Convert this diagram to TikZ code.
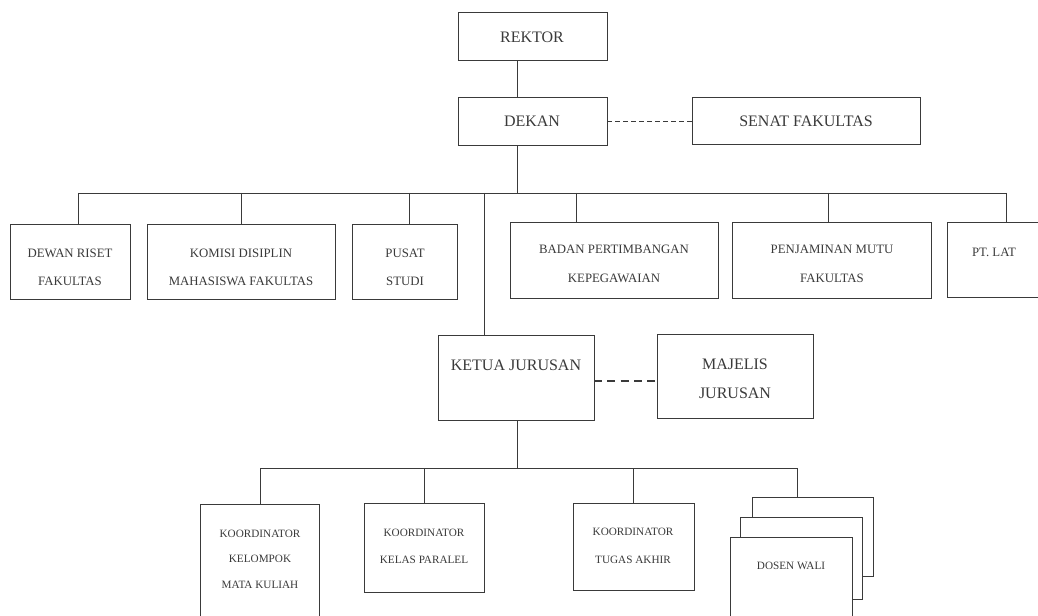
\documentclass[tikz,border=0pt]{standalone}
\usepackage{fontspec}
\setmainfont{Liberation Serif}
\usetikzlibrary{fit}
\definecolor{ink}{HTML}{3A3A3A}
\tikzset{
  box/.style={draw=ink, line width=0.7pt, fill=white, inner sep=0pt},
  wire/.style={draw=ink, line width=0.7pt},
  thindash/.style={draw=ink, line width=0.6pt, dash pattern=on 3.5pt off 2.5pt},
  thickdash/.style={draw=ink, line width=1.1pt, dash pattern=on 6pt off 4pt},
  ttop/.style={text=ink, font=\fontsize{12}{14}\selectfont, inner sep=0pt},
  tmid/.style={text=ink, font=\fontsize{9.6}{11}\selectfont, inner sep=0pt},
  tlow/.style={text=ink, font=\fontsize{8.4}{10}\selectfont, inner sep=0pt},
}
\newcommand{\bx}[5]{\node[box, fit={(#2,#3)(#4,#5)}] (#1) {};}
\begin{document}
\begin{tikzpicture}[x=0.75pt,y=-0.75pt]
\clip (0,0) rectangle (1038,616);
\fill[white] (0,0) rectangle (1038,616);

% top level
\bx{rektor}{458}{12}{607}{60}
\bx{dekan}{458}{97}{607}{145}
\bx{senat}{692}{97}{920}{144}
\node[ttop] (trektor) at (532,37) {REKTOR};
\node[ttop] (tdekan) at (532,121) {DEKAN};
\node[ttop] (tsenat) at (806,121) {SENAT FAKULTAS};

% second row
\bx{dewan}{10}{224}{130}{299}
\bx{komisi}{147}{224}{335}{299}
\bx{pusat}{352}{224}{457}{299}
\bx{badan}{510}{222}{718}{298}
\bx{penj}{732}{222}{931}{298}
\bx{ptlat}{947}{222}{1060}{297}
\node[tmid] (t1a) at (70,253) {DEWAN RISET};
\node[tmid] (t1b) at (70,281) {FAKULTAS};
\node[tmid] (t2a) at (241,253) {KOMISI DISIPLIN};
\node[tmid] (t2b) at (241,281) {MAHASISWA FAKULTAS};
\node[tmid] (t3a) at (405,253) {PUSAT};
\node[tmid] (t3b) at (405,281) {STUDI};
\node[tmid] (t4a) at (614,249) {BADAN PERTIMBANGAN};
\node[tmid] (t4b) at (614,278) {KEPEGAWAIAN};
\node[tmid] (t5a) at (832,249) {PENJAMINAN MUTU};
\node[tmid] (t5b) at (832,278) {FAKULTAS};
\node[tmid] (t6a) at (994,252) {PT. LAT};

% jurusan
\bx{ketua}{438}{335}{594}{420}
\bx{majelis}{657}{334}{813}{418}
\node[ttop] (tketua) at (516,365) {KETUA JURUSAN};
\node[ttop] (tmaj1) at (735,364) {MAJELIS};
\node[ttop] (tmaj2) at (735,393) {JURUSAN};

% bottom row
\bx{kelompok}{200}{504}{319}{650}
\bx{paralel}{364}{503}{484}{592}
\bx{tugas}{573}{503}{694}{590}
\bx{wali3}{752}{497}{873}{576}
\bx{wali2}{740}{517}{862}{599}
\bx{wali}{730}{537}{852}{650}
\node[tlow] (k1) at (260,534) {KOORDINATOR};
\node[tlow] (k2) at (260,559) {KELOMPOK};
\node[tlow] (k3) at (260,585) {MATA KULIAH};
\node[tlow] (p1) at (424,533) {KOORDINATOR};
\node[tlow] (p2) at (424,560) {KELAS PARALEL};
\node[tlow] (g1) at (633,532) {KOORDINATOR};
\node[tlow] (g2) at (633,560) {TUGAS AKHIR};
\node[tlow] (w1) at (791,566) {DOSEN WALI};

% connectors
\coordinate (d) at (517,193);
\coordinate (bl) at (78,193);
\coordinate (br) at (1006,193);
\draw[wire] (rektor.south -| d) -- (dekan.north -| d);
\draw[wire] (dekan.south -| d) -- (d);
\draw[wire] (bl) -- (br);
\draw[wire] (bl) -- (dewan.north -| bl);
\coordinate (c2) at (241,193);
\draw[wire] (c2) -- (komisi.north -| c2);
\coordinate (c3) at (409,193);
\draw[wire] (c3) -- (pusat.north -| c3);
\coordinate (c4) at (484,193);
\draw[wire] (c4) -- (ketua.north -| c4);
\coordinate (c5) at (576,193);
\draw[wire] (c5) -- (badan.north -| c5);
\coordinate (c6) at (828,193);
\draw[wire] (c6) -- (penj.north -| c6);
\draw[wire] (br) -- (ptlat.north -| br);
\draw[thindash] (dekan.east) -- (senat.west |- dekan.east);
\coordinate (m) at (594,381);
\draw[thickdash] (m) -- (majelis.west |- m);

\coordinate (k) at (517,468);
\coordinate (kl) at (260,468);
\coordinate (kr) at (797,468);
\draw[wire] (ketua.south -| k) -- (k);
\draw[wire] (kl) -- (kr);
\draw[wire] (kl) -- (kelompok.north -| kl);
\coordinate (e2) at (424,468);
\draw[wire] (e2) -- (paralel.north -| e2);
\coordinate (e3) at (633,468);
\draw[wire] (e3) -- (tugas.north -| e3);
\draw[wire] (kr) -- (wali3.north -| kr);
\end{tikzpicture}
\end{document}
